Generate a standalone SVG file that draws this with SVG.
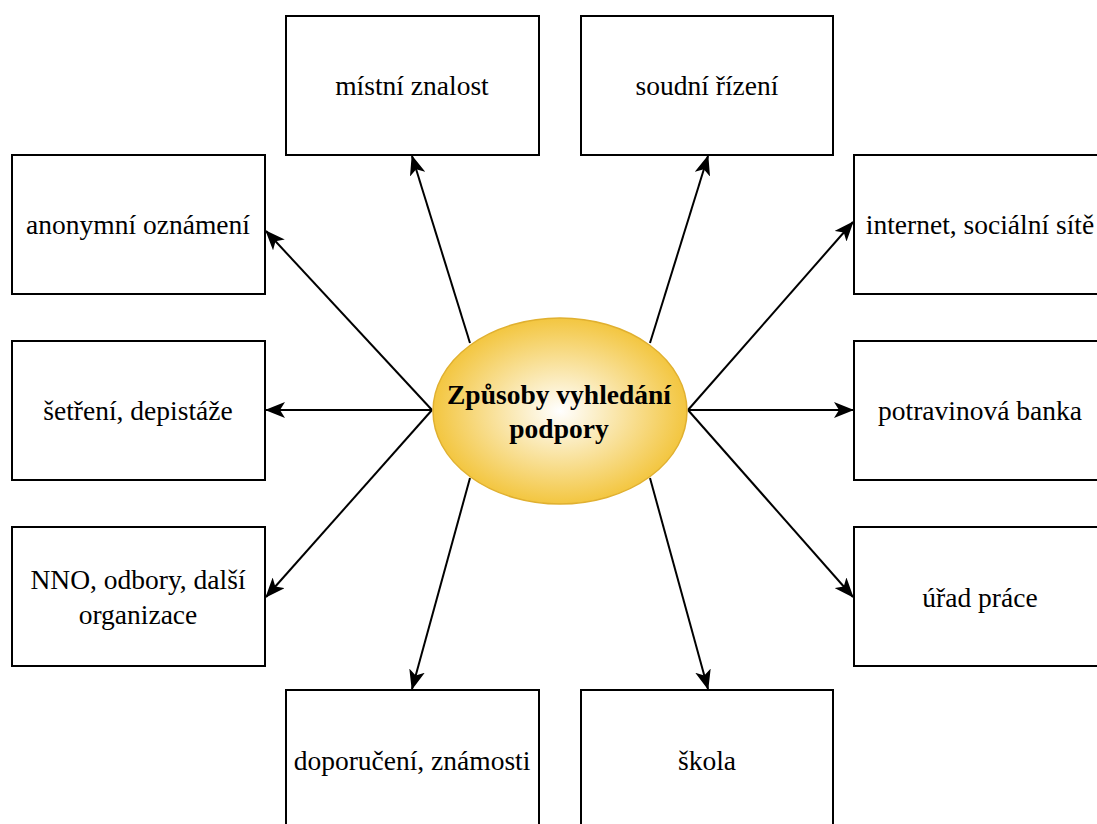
<svg xmlns="http://www.w3.org/2000/svg" width="1097" height="824" viewBox="0 0 1097 824">
<style>
.box{fill:#fff;stroke:#000;stroke-width:2}
.t{font-family:'Liberation Serif','Times New Roman',serif;font-size:27.5px;fill:#000;text-anchor:middle}
.tc{font-family:'Liberation Serif','Times New Roman',serif;font-size:27.5px;font-weight:bold;fill:#000;text-anchor:middle}
.c{stroke:#000;stroke-width:2;fill:none;marker-end:url(#ah)}
</style>
<defs>
<radialGradient id="g" cx="50%" cy="50%" r="50%">
<stop offset="0" stop-color="#ffffff"/>
<stop offset="1" stop-color="#f3c640"/>
</radialGradient>
<marker id="ah" markerUnits="userSpaceOnUse" viewBox="0 0 20 16" markerWidth="20" markerHeight="16" refX="19" refY="8" orient="auto">
<path d="M0,0 L20,8 L0,16 L5,8 z" fill="#000"/>
</marker>
</defs>
<rect width="1097" height="824" fill="#fff"/>
<g id="connectors">
<line class="c" x1="470" y1="343" x2="412" y2="156"/>
<line class="c" x1="650" y1="343" x2="708" y2="156"/>
<line class="c" x1="432" y1="410" x2="266" y2="231"/>
<line class="c" x1="688" y1="410" x2="853" y2="222"/>
<line class="c" x1="432" y1="410" x2="266" y2="410"/>
<line class="c" x1="688" y1="410" x2="853" y2="410"/>
<line class="c" x1="432" y1="410" x2="266" y2="597"/>
<line class="c" x1="688" y1="410" x2="853" y2="597"/>
<line class="c" x1="470" y1="478" x2="412" y2="689"/>
<line class="c" x1="650" y1="478" x2="708" y2="689"/>
</g>
<g id="center">
<ellipse cx="560" cy="411" rx="127" ry="93" fill="url(#g)" stroke="#e0b030" stroke-width="1.5"/>
<text class="tc" x="559" y="404">Způsoby vyhledání</text>
<text class="tc" x="559" y="438">podpory</text>
</g>
<g id="n-mistni"><rect class="box" x="286" y="16" width="253" height="139"/><text class="t" x="412" y="95">místní znalost</text></g>
<g id="n-soudni"><rect class="box" x="581" y="16" width="252" height="139"/><text class="t" x="707" y="95">soudní řízení</text></g>
<g id="n-anonymni"><rect class="box" x="12" y="155" width="253" height="139"/><text class="t" x="138" y="234">anonymní oznámení</text></g>
<g id="n-internet"><rect class="box" x="854" y="155" width="253" height="139"/><text class="t" x="980" y="234">internet, sociální sítě</text></g>
<g id="n-setreni"><rect class="box" x="12" y="341" width="253" height="139"/><text class="t" x="138" y="420">šetření, depistáže</text></g>
<g id="n-potravinova"><rect class="box" x="854" y="341" width="253" height="139"/><text class="t" x="980" y="420">potravinová banka</text></g>
<g id="n-nno"><rect class="box" x="12" y="527" width="253" height="139"/><text class="t" x="138" y="589">NNO, odbory, další</text><text class="t" x="138" y="624">organizace</text></g>
<g id="n-urad"><rect class="box" x="854" y="527" width="253" height="139"/><text class="t" x="980" y="607">úřad práce</text></g>
<g id="n-doporuceni"><rect class="box" x="286" y="690" width="253" height="150"/><text class="t" x="412" y="770">doporučení, známosti</text></g>
<g id="n-skola"><rect class="box" x="581" y="690" width="252" height="150"/><text class="t" x="707" y="770">škola</text></g>
</svg>
